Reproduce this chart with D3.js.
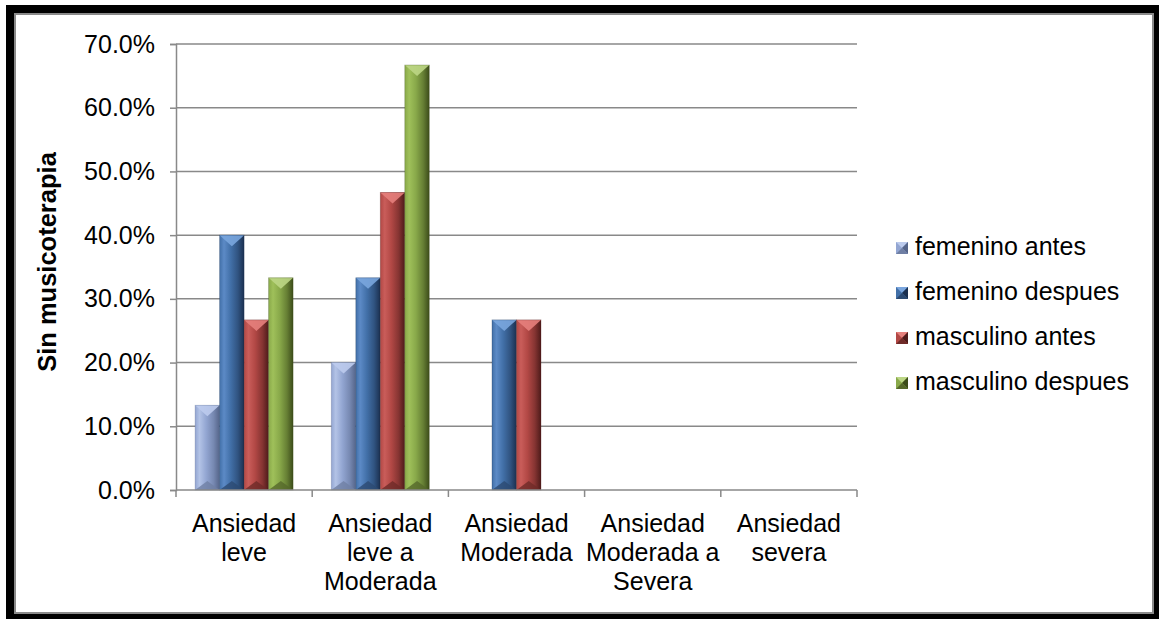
<!DOCTYPE html>
<html>
<head>
<meta charset="utf-8">
<script src="https://cdn.jsdelivr.net/npm/d3@7"></script>
<style>
  html, body { margin: 0; padding: 0; background: #fff; }
  svg { display: block; font-family: "Liberation Sans", Arial, sans-serif; }
</style>
</head>
<body>
<svg id="chart" width="1159" height="619"></svg>
<script>
// Anxiety levels (x categories), wrapped over several lines
const categories = [
  ["Ansiedad", "leve"],
  ["Ansiedad", "leve a", "Moderada"],
  ["Ansiedad", "Moderada"],
  ["Ansiedad", "Moderada a", "Severa"],
  ["Ansiedad", "severa"]
];
const categoryKeys = ["leve", "leveModerada", "moderada", "moderadaSevera", "severa"];

const seriesNames = ["femenino antes", "femenino despues", "masculino antes", "masculino despues"];

// Share of patients per level, one array per series
const femeninoAntes    = [0.133, 0.200, 0.000, 0.000, 0.000];
const femeninoDespues  = [0.400, 0.333, 0.267, 0.000, 0.000];
const masculinoAntes   = [0.267, 0.467, 0.267, 0.000, 0.000];
const masculinoDespues = [0.333, 0.667, 0.000, 0.000, 0.000];
const seriesValues = [femeninoAntes, femeninoDespues, masculinoAntes, masculinoDespues];

const yTicks = [0, 0.1, 0.2, 0.3, 0.4, 0.5, 0.6, 0.7];
const yTitle = "Sin musicoterapia";

// Bevel shades per series: base, light, dark, top facet, bottom facet
const palette = [
  { base: "#93a6d2", light: "#b3c3e6", dark: "#55658a", top: "#bccbed", bottom: "#6f7fa4" },
  { base: "#4270a8", light: "#5c8ac6", dark: "#1b3050", top: "#7aa6de", bottom: "#2c4a72" },
  { base: "#b24845", light: "#c95d5a", dark: "#4e1b1a", top: "#e5807c", bottom: "#6e2a28" },
  { base: "#89a94a", light: "#9fc05a", dark: "#3c4c1a", top: "#bcd685", bottom: "#55682a" }
];

const fontSize = 25;

const svg = d3.select("#chart");
const defs = svg.append("defs");

palette.forEach((c, i) => {
  const g = defs.append("linearGradient")
    .attr("id", "bar" + i).attr("x1", 0).attr("x2", 1).attr("y1", 0).attr("y2", 0);
  [[0, c.base], [0.18, c.light], [0.45, c.base], [0.75, d3.interpolateRgb(c.base, c.dark)(0.45)], [1, c.dark]]
    .forEach(([o, col]) => g.append("stop").attr("offset", o).attr("stop-color", col));
});

// Frame: dark drop border with a thin grey edge
svg.append("rect").attr("x", 6).attr("y", 5).attr("width", 1153).attr("height", 614).attr("fill", "#000");
svg.append("rect").attr("x", 14).attr("y", 13).attr("width", 1140).attr("height", 601).attr("fill", "#8a8a8a");
svg.append("rect").attr("x", 16).attr("y", 15).attr("width", 1136).attr("height", 597).attr("fill", "#fff");

const plotLeft = 176, plotRight = 857, plotTop = 44, plotBottom = 490;

const x = d3.scaleBand().domain(categoryKeys).range([plotLeft, plotRight]).paddingInner(0).paddingOuter(0);
const x1 = d3.scaleBand().domain(d3.range(seriesNames.length)).range([0, x.bandwidth()])
  .paddingInner(0).paddingOuter(0.78);
const y = d3.scaleLinear().domain([0, 0.7]).range([plotBottom, plotTop]);

const axisColor = "#898989";

// Horizontal gridlines
svg.append("g").selectAll("line").data(yTicks.slice(1)).join("line")
  .attr("x1", plotLeft).attr("x2", plotRight)
  .attr("y1", d => y(d)).attr("y2", d => y(d))
  .attr("stroke", axisColor).attr("stroke-width", 1.5);

// Y axis
const yAxis = svg.append("g").attr("transform", `translate(${plotLeft},0)`)
  .call(d3.axisLeft(y).tickValues(yTicks).tickFormat(d3.format(".1%")).tickSize(6).tickPadding(15));
yAxis.select(".domain").attr("stroke", axisColor).attr("stroke-width", 1.5);
yAxis.selectAll(".tick line").attr("stroke", axisColor).attr("stroke-width", 1.5);
yAxis.selectAll(".tick text").attr("font-size", fontSize).attr("fill", "#000")
  .attr("font-family", "'Liberation Sans', Arial, sans-serif");

// Bars with bevelled faces
const groups = svg.append("g").selectAll("g").data(categoryKeys).join("g")
  .attr("transform", d => `translate(${x(d)},0)`);

groups.each(function (key, ci) {
  const g = d3.select(this);
  seriesValues.forEach((vals, si) => {
    const v = vals[ci];
    if (v <= 0) return;
    const x0 = x1(si), w = x1.bandwidth(), x2 = x0 + w, cx = x0 + w / 2;
    const yt = y(v), yb = y(0), h = yb - yt;
    const c = palette[si];
    g.append("rect").attr("x", x0).attr("y", yt).attr("width", w).attr("height", h)
      .attr("fill", `url(#bar${si})`);
    const bt = Math.min(11, h / 2), bb = Math.min(9, h / 2);
    g.append("path")
      .attr("d", `M${x0},${yt}L${x2},${yt}L${cx},${yt + bt}Z`)
      .attr("fill", c.top).attr("opacity", 0.9);
    g.append("path")
      .attr("d", `M${x0},${yb}L${x2},${yb}L${cx},${yb - bb}Z`)
      .attr("fill", c.bottom).attr("opacity", 0.8);
    g.append("rect").attr("x", x0).attr("y", yt).attr("width", w).attr("height", h)
      .attr("fill", "none").attr("stroke", c.dark).attr("stroke-opacity", 0.35).attr("stroke-width", 0.8);
  });
});

// X axis baseline and ticks at category boundaries
svg.append("line").attr("x1", plotLeft).attr("x2", plotRight).attr("y1", plotBottom).attr("y2", plotBottom)
  .attr("stroke", axisColor).attr("stroke-width", 1.5);
const bounds = categoryKeys.map(k => x(k)).concat([plotRight]);
svg.append("g").selectAll("line").data(bounds).join("line")
  .attr("x1", d => d).attr("x2", d => d).attr("y1", plotBottom).attr("y2", plotBottom + 7)
  .attr("stroke", axisColor).attr("stroke-width", 1.5);

// Category labels
svg.append("g").selectAll("text").data(categories).join("text")
  .attr("x", (d, i) => x(categoryKeys[i]) + x.bandwidth() / 2)
  .attr("y", 532)
  .attr("text-anchor", "middle").attr("font-size", fontSize).attr("fill", "#000")
  .selectAll("tspan").data(d => d).join("tspan")
  .attr("x", function () { return d3.select(this.parentNode).attr("x"); })
  .attr("dy", (d, i) => i === 0 ? 0 : 29)
  .text(d => d);

// Y axis title
svg.append("text")
  .attr("transform", "translate(56,262) rotate(-90)")
  .attr("text-anchor", "middle").attr("font-size", 25.5).attr("font-weight", "bold").attr("fill", "#000")
  .text(yTitle);

// Legend
const legend = svg.append("g").selectAll("g").data(seriesNames).join("g")
  .attr("transform", (d, i) => `translate(896,${255 + i * 45})`);
legend.each(function (name, i) {
  const g = d3.select(this);
  const c = palette[i], s = 12;
  g.append("rect").attr("x", 0).attr("y", -13).attr("width", s).attr("height", s).attr("fill", c.base);
  g.append("path").attr("d", `M0,-13L${s},-13L${s / 2},${-13 + s / 2}Z`).attr("fill", c.top);
  g.append("path").attr("d", `M${s},-13L${s},-1L${s / 2},${-13 + s / 2}Z`).attr("fill", c.dark);
  g.append("path").attr("d", `M0,-1L${s},-1L${s / 2},${-13 + s / 2}Z`).attr("fill", c.bottom);
  g.append("text").attr("x", 19).attr("y", 0).attr("font-size", fontSize).attr("fill", "#000").text(name);
});
</script>
</body>
</html>
